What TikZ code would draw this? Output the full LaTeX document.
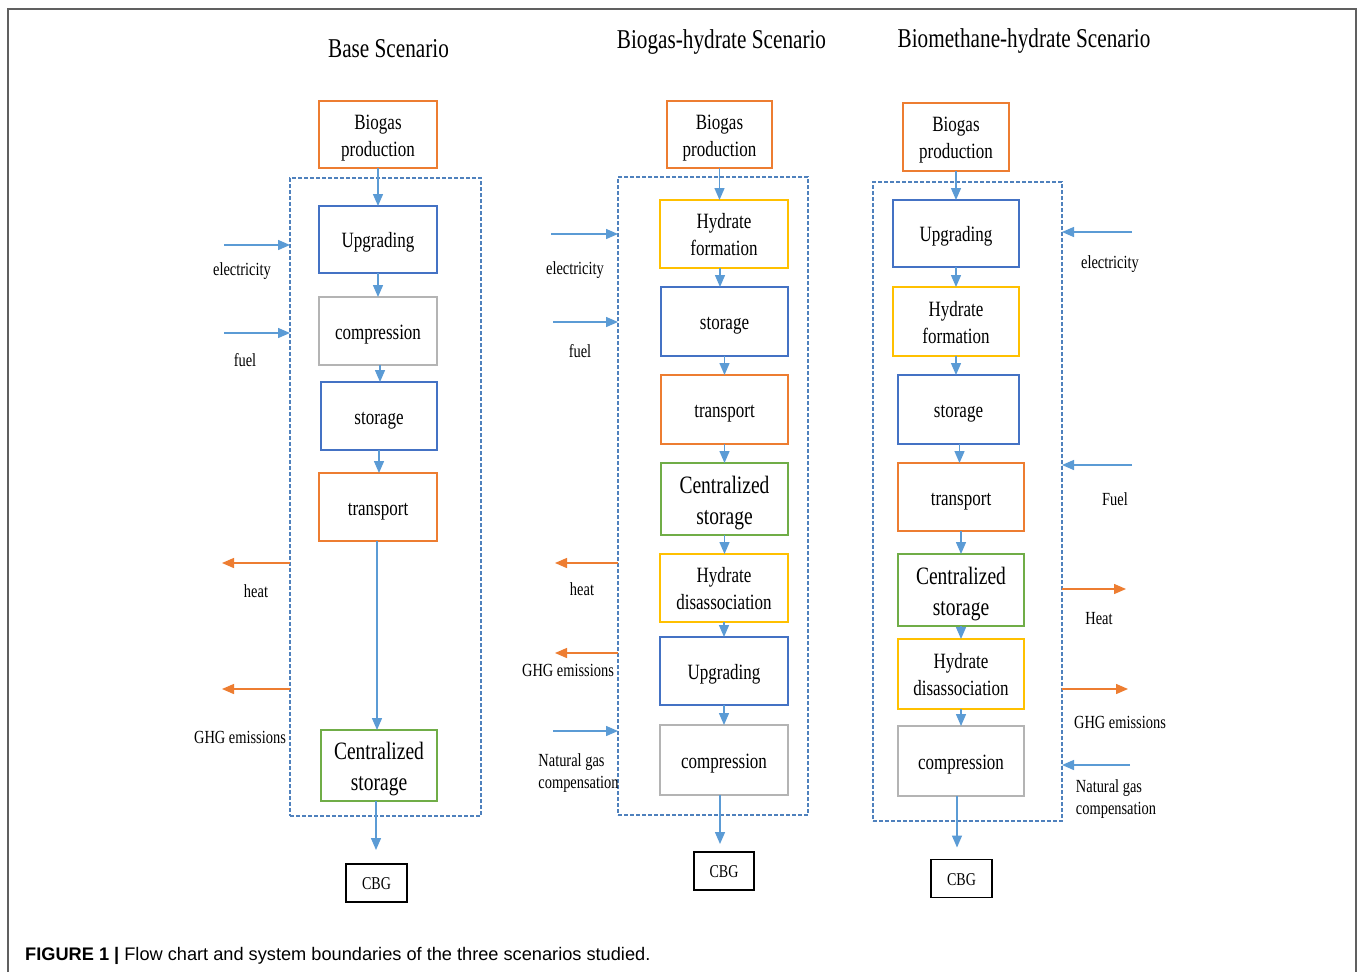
\documentclass[tikz,border=0pt]{standalone}
\usepackage{fontspec}
\setmainfont{Liberation Serif}
\newfontfamily\cond[FakeStretch=0.78]{Liberation Serif}
\newfontfamily\capsans{Liberation Sans}
\usetikzlibrary{arrows.meta}
\definecolor{cOrange}{HTML}{ED7D31}
\definecolor{cBlue}{HTML}{4472C4}
\definecolor{cGray}{HTML}{B4B4B4}
\definecolor{cGreen}{HTML}{70AD47}
\definecolor{cYellow}{HTML}{FFC000}
\definecolor{cArrow}{HTML}{5B9BD5}
\definecolor{cDash}{HTML}{4F81BD}
\definecolor{cFrame}{HTML}{606060}
\newcommand\tS{\rule{0pt}{1em}}
\newcommand\bS{\rule[-0.23em]{0pt}{0.23em}}
\tikzset{
  box/.style={draw, line width=1.8pt, inner sep=0pt, outer sep=0pt, align=center,
    font=\cond\fontsize{21.8}{27}\selectfont},
  bigbox/.style={box, font=\cond\fontsize{25}{31}\selectfont},
  cbgbox/.style={draw=black, line width=1.8pt, inner sep=0pt, outer sep=0pt,
    minimum width=61pt, minimum height=38pt, font=\cond\fontsize{18}{20}\selectfont},
  bound/.style={draw=cDash, line width=1.6pt, dash pattern=on 4pt off 2pt,
    inner sep=0pt, outer sep=0pt},
  flow/.style={draw=cArrow, line width=1.4pt, -{Triangle[length=12pt,width=10pt]}},
  inarr/.style={draw=cArrow, line width=1.4pt, -{Triangle[length=12pt,width=10pt]}},
  outarr/.style={draw=cOrange, line width=1.4pt, -{Triangle[length=12pt,width=10pt]}},
  lab/.style={inner sep=0pt, font=\cond\fontsize{18.5}{22}\selectfont},
  ttl/.style={inner sep=0pt, anchor=base, font=\cond\fontsize{27.2}{30}\selectfont},
}
\begin{document}
\begin{tikzpicture}[x=1pt,y=-1pt]
\useasboundingbox (0,0) rectangle (1357,972);
\fill[white] (0,0) rectangle (1357,972);
% outer frame
\draw[cFrame, line width=1.5pt] (8,972) -- (8,9) -- (1356,9) -- (1356,972);

% titles
\node[ttl] (t1) at (388.5,57) {Base Scenario};
\node[ttl] (t2) at (721.5,48) {Biogas-hydrate Scenario};
\node[ttl] (t3) at (1024,47) {Biomethane-hydrate Scenario};

% boundaries
\node[bound, minimum width=191pt, minimum height=638pt] (bd1) at (385.5,497) {};
\node[bound, minimum width=190pt, minimum height=638pt] (bd2) at (713,496) {};
\node[bound, minimum width=189pt, minimum height=639pt] (bd3) at (967.5,501.5) {};

% ---------- column 1
\node[box, draw=cOrange, minimum width=118pt, minimum height=67pt] (a1) at (378,134.5) {\tS Biogas\\production\bS};
\node[box, draw=cBlue, minimum width=118pt, minimum height=67pt] (a2) at (378,239.5) {\tS Upgrading\bS};
\node[box, draw=cGray, minimum width=118pt, minimum height=68pt] (a3) at (378,331) {\tS compression\bS};
\node[box, draw=cBlue, minimum width=116pt, minimum height=68pt] (a4) at (379,416) {\tS storage\bS};
\node[box, draw=cOrange, minimum width=118pt, minimum height=68pt] (a5) at (378,507) {\tS transport\bS};
\node[bigbox, draw=cGreen, minimum width=116pt, minimum height=71pt] (a6) at (379,765.5) {\tS Centralized\\storage\bS};
\node[cbgbox] (a7) at (376.5,883) {\tS CBG\bS};

\draw[flow] (a1.south) -- (a1.south |- a2.north);
\draw[flow] (a2.south) -- (a2.south |- a3.north);
\draw[flow] ([xshift=2pt]a3.south) -- ([xshift=2pt]a3.south |- a4.north);
\draw[flow] (a4.south) -- (a4.south |- a5.north);
\draw[flow] ([xshift=-1pt]a5.south) -- ([xshift=-1pt]a5.south |- a6.north);
\draw[flow, shorten >=14pt] ([xshift=-3pt]a6.south) -- ([xshift=-3pt]a6.south |- a7.north);

\coordinate (e1) at (224,245);
\coordinate (f1) at (224,333);
\coordinate (h1) at (222,563);
\coordinate (g1) at (222,689);
\draw[inarr] (e1) -- (e1 -| bd1.west);
\draw[inarr] (f1) -- (f1 -| bd1.west);
\draw[outarr] (h1 -| bd1.west) -- (h1);
\draw[outarr] (g1 -| bd1.west) -- (g1);
\node[lab] (le1) at (242,271) {electricity};
\node[lab] (lf1) at (245,360) {fuel};
\node[lab] (lh1) at (256,591) {heat};
\node[lab] (lg1) at (240,737) {GHG emissions};

% ---------- column 2
\node[box, draw=cOrange, minimum width=105pt, minimum height=67pt] (b1) at (719.5,134.5) {\tS Biogas\\production\bS};
\node[box, draw=cYellow, minimum width=128pt, minimum height=68pt] (b2) at (724,234) {\tS Hydrate\\formation\bS};
\node[box, draw=cBlue, minimum width=127pt, minimum height=69pt] (b3) at (724.5,321.5) {\tS storage\bS};
\node[box, draw=cOrange, minimum width=127pt, minimum height=69pt] (b4) at (724.5,409.5) {\tS transport\bS};
\node[bigbox, draw=cGreen, minimum width=127pt, minimum height=72pt] (b5) at (724.5,499) {\tS Centralized\\storage\bS};
\node[box, draw=cYellow, minimum width=128pt, minimum height=68pt] (b6) at (724,588) {\tS Hydrate\\disassociation\bS};
\node[box, draw=cBlue, minimum width=128pt, minimum height=68pt] (b7) at (724,671) {\tS Upgrading\bS};
\node[box, draw=cGray, minimum width=128pt, minimum height=70pt] (b8) at (724,760) {\tS compression\bS};
\node[cbgbox, minimum width=60pt] (b9) at (724,871) {\tS CBG\bS};

\draw[flow] (b1.south) -- (b1.south |- b2.north);
\draw[flow] ([xshift=-4pt]b2.south) -- ([xshift=-4pt]b2.south |- b3.north);
\draw[flow] (b3.south) -- (b3.south |- b4.north);
\draw[flow] (b4.south) -- (b4.south |- b5.north);
\draw[flow] (b5.south) -- (b5.south |- b6.north);
\draw[flow] (b6.south) -- (b6.south |- b7.north);
\draw[flow] (b7.south) -- (b7.south |- b8.north);
\draw[flow, shorten >=8pt] ([xshift=-4pt]b8.south) -- ([xshift=-4pt]b8.south |- b9.north);

\coordinate (e2) at (551,234);
\coordinate (f2) at (553,322);
\coordinate (h2) at (555,563);
\coordinate (g2) at (555,653);
\coordinate (n2) at (553,731);
\draw[inarr] (e2) -- (e2 -| bd2.west);
\draw[inarr] (f2) -- (f2 -| bd2.west);
\draw[outarr] (h2 -| bd2.west) -- (h2);
\draw[outarr] (g2 -| bd2.west) -- (g2);
\draw[inarr] (n2) -- (n2 -| bd2.west);
\node[lab] (le2) at (575,270) {electricity};
\node[lab] (lf2) at (580,351) {fuel};
\node[lab] (lh2) at (582,589) {heat};
\node[lab] (lg2) at (568,670) {GHG emissions};
\node[lab, align=left] (ln2) at (578.5,773) {Natural gas\\compensation};

% ---------- column 3
\node[box, draw=cOrange, minimum width=106pt, minimum height=68pt] (c1) at (956,137) {\tS Biogas\\production\bS};
\node[box, draw=cBlue, minimum width=126pt, minimum height=67pt] (c2) at (956,233.5) {\tS Upgrading\bS};
\node[box, draw=cYellow, minimum width=126pt, minimum height=69pt] (c3) at (956,321.5) {\tS Hydrate\\formation\bS};
\node[box, draw=cBlue, minimum width=121pt, minimum height=69pt] (c4) at (958.5,409.5) {\tS storage\bS};
\node[box, draw=cOrange, minimum width=126pt, minimum height=68pt] (c5) at (961,497) {\tS transport\bS};
\node[bigbox, draw=cGreen, minimum width=126pt, minimum height=72pt] (c6) at (961,590) {\tS Centralized\\storage\bS};
\node[box, draw=cYellow, minimum width=126pt, minimum height=70pt] (c7) at (961,674) {\tS Hydrate\\disassociation\bS};
\node[box, draw=cGray, minimum width=126pt, minimum height=70pt] (c8) at (961,761) {\tS compression\bS};
\node[cbgbox] (c9) at (961.5,878.5) {\tS CBG\bS};

\draw[flow] (c1.south) -- (c1.south |- c2.north);
\draw[flow] (c2.south) -- (c2.south |- c3.north);
\draw[flow] (c3.south) -- (c3.south |- c4.north);
\draw[flow] ([xshift=1pt]c4.south) -- ([xshift=1pt]c4.south |- c5.north);
\draw[flow] (c5.south) -- (c5.south |- c6.north);
\draw[flow] (c6.south) -- (c6.south |- c7.north);
\draw[flow] (c7.south) -- (c7.south |- c8.north);
\draw[flow, shorten >=12pt] ([xshift=-4pt]c8.south) -- ([xshift=-4pt]c8.south |- c9.north);

\coordinate (e3) at (1132,232);
\coordinate (f3) at (1132,465);
\coordinate (h3) at (1126,589);
\coordinate (g3) at (1128,689);
\coordinate (n3) at (1130,765);
\draw[inarr] (e3) -- (e3 -| bd3.east);
\draw[inarr] (f3) -- (f3 -| bd3.east);
\draw[outarr] (h3 -| bd3.east) -- (h3);
\draw[outarr] (g3 -| bd3.east) -- (g3);
\draw[inarr] (n3) -- (n3 -| bd3.east);
\node[lab] (le3) at (1110,264) {electricity};
\node[lab] (lf3) at (1115,499) {Fuel};
\node[lab] (lh3) at (1099,619) {Heat};
\node[lab] (lg3) at (1120,722) {GHG emissions};
\node[lab, align=left] (ln3) at (1116,799) {Natural gas\\compensation};

% caption
\node[anchor=base west, inner sep=0pt, font=\capsans\fontsize{18.2}{22}\selectfont] (cap) at (25,960)
  {\textbf{FIGURE 1 |} Flow chart and system boundaries of the three scenarios studied.};
\end{tikzpicture}
\end{document}
